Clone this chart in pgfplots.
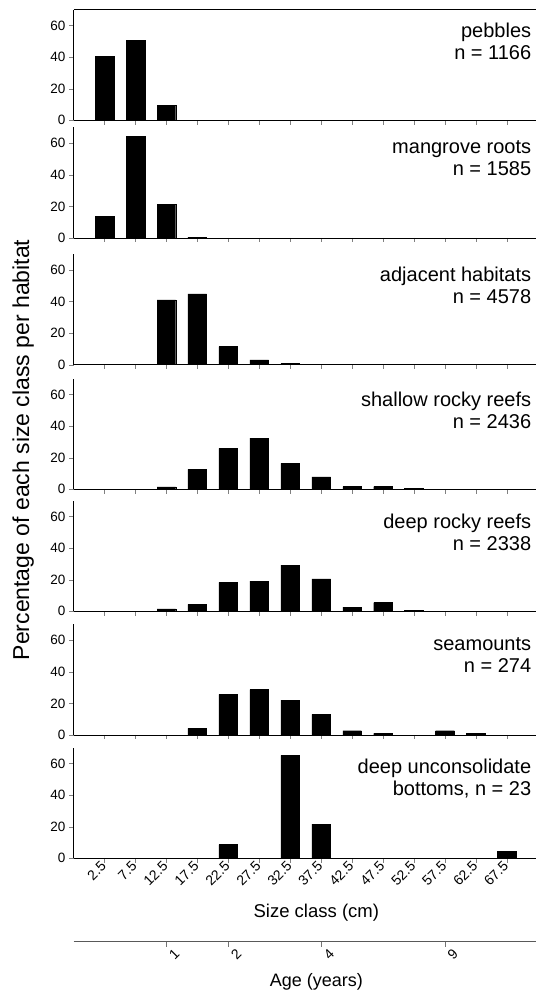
\documentclass[border=0pt]{standalone}
\usepackage{fontspec}
\setmainfont{Liberation Sans}
\usepackage{pgfplots}
\pgfplotsset{compat=1.18}

\pgfplotsset{
  panel/.style={
    scale only axis, width=462.5pt, height=110.5pt, anchor=south west,
    xmin=-1, xmax=13.94, ymin=0, ymax=70,
    axis x line*=bottom, axis y line*=left,
    axis line style={-, line width=0.8pt},
    ytick={0,20,40,60}, xtick={0,...,13}, xticklabels={},
    major tick length=-4.5pt,
    xticklabel shift={4.5pt}, yticklabel shift={4.5pt},
    /pgf/number format/assume math mode=true,
    yticklabel style={font=\fontsize{13.5}{14}\selectfont},
  },
  bars/.style={ybar, bar width=18.7pt, fill=black, draw=black},
}
\tikzset{
  lbl/.style={anchor=north east, align=right, inner sep=0pt,
    font=\fontsize{20}{22}\selectfont},
}

\begin{document}
\begin{tikzpicture}
\path[use as bounding box] (0,0) rectangle (536pt,992pt);

% pebbles
\begin{axis}[panel, at={(73.5pt,871.7pt)}]
  \addplot[bars] coordinates {(0,40.5) (1,50.5) (2,9.3)};
  \draw[line width=0.8pt] (rel axis cs:0,1) -- (rel axis cs:1,1);
  \node[lbl] at (rel axis cs:0.99,0.885) {pebbles\\n = 1166};
\end{axis}

% mangrove roots
\begin{axis}[panel, at={(73.5pt,754pt)}]
  \addplot[bars] coordinates {(0,13.8) (1,64.6) (2,21.1) (3,0.5)};
  \node[lbl] at (rel axis cs:0.99,0.885) {mangrove roots\\n = 1585};
\end{axis}

% adjacent habitats
\begin{axis}[panel, at={(73.5pt,627.3pt)}]
  \addplot[bars] coordinates {(2,41) (3,44.8) (4,11.4) (5,3) (6,0.8)};
  \node[lbl] at (rel axis cs:0.99,0.885) {adjacent habitats\\n = 4578};
\end{axis}

% shallow rocky reefs
\begin{axis}[panel, at={(73.5pt,502.7pt)},
    ylabel={Percentage of each size class per habitat},
    ylabel style={at={(axis description cs:-0.109,0.356)}, anchor=center,
      font=\fontsize{23}{23}\selectfont}]
  \addplot[bars] coordinates {(2,1.5) (3,12.6) (4,25.9) (5,32.4) (6,16.4) (7,7.8) (8,1.7) (9,1.7) (10,0.6)};
  \node[lbl] at (rel axis cs:0.99,0.885) {shallow rocky reefs\\n = 2436};
\end{axis}

% deep rocky reefs
\begin{axis}[panel, at={(73.5pt,380.7pt)}]
  \addplot[bars] coordinates {(2,1.5) (3,4.4) (4,18.3) (5,19.1) (6,29.2) (7,20.6) (8,2.7) (9,5.5) (10,0.6)};
  \node[lbl] at (rel axis cs:0.99,0.885) {deep rocky reefs\\n = 2338};
\end{axis}

% seamounts
\begin{axis}[panel, at={(73.5pt,257pt)}]
  \addplot[bars] coordinates {(3,4.2) (4,25.7) (5,28.8) (6,22.1) (7,13) (8,2.7) (9,1) (11,2.7) (12,1)};
  \node[lbl] at (rel axis cs:0.99,0.885) {seamounts\\n = 274};
\end{axis}

% deep unconsolidate bottoms
\begin{axis}[panel, at={(73.5pt,133.7pt)},
    xticklabels={2.5,7.5,12.5,17.5,22.5,27.5,32.5,37.5,42.5,47.5,52.5,57.5,62.5,67.5},
    xticklabel style={rotate=45, anchor=east, xshift=2pt,
      font=\fontsize{14}{14}\selectfont},
    xlabel={Size class (cm)},
    xlabel style={at={(axis description cs:0.525,0)}, anchor=center, yshift=-54.7pt,
      font=\fontsize{18.5}{19}\selectfont}]
  \addplot[bars] coordinates {(4,8.7) (6,65.2) (7,21.7) (13,4.3)};
  \node[lbl] at (rel axis cs:0.99,0.9) {deep unconsolidate\\bottoms, n = 23};
\end{axis}

% age axis
\begin{axis}[scale only axis, width=462.5pt, height=10pt, anchor=south west,
    at={(73.5pt,50.3pt)},
    xmin=-1, xmax=13.94, ymin=0, ymax=1,
    axis x line*=bottom, axis y line=none,
    axis line style={-, line width=0.8pt, black!65},
    xtick={2,4,7,11}, xticklabels={1,2,4,9},
    major tick length=-5pt, xticklabel shift={5pt},
    tick style={black!55},
    /pgf/number format/assume math mode=true,
    xticklabel style={rotate=45, anchor=center, yshift=-11pt,
      font=\fontsize{14}{14}\selectfont},
    xlabel={Age (years)},
    xlabel style={at={(axis description cs:0.525,0)}, anchor=center, yshift=-40.3pt,
      font=\fontsize{18}{19}\selectfont}]
  \addplot[draw=none] coordinates {(0,0)};
\end{axis}
\end{tikzpicture}
\end{document}
